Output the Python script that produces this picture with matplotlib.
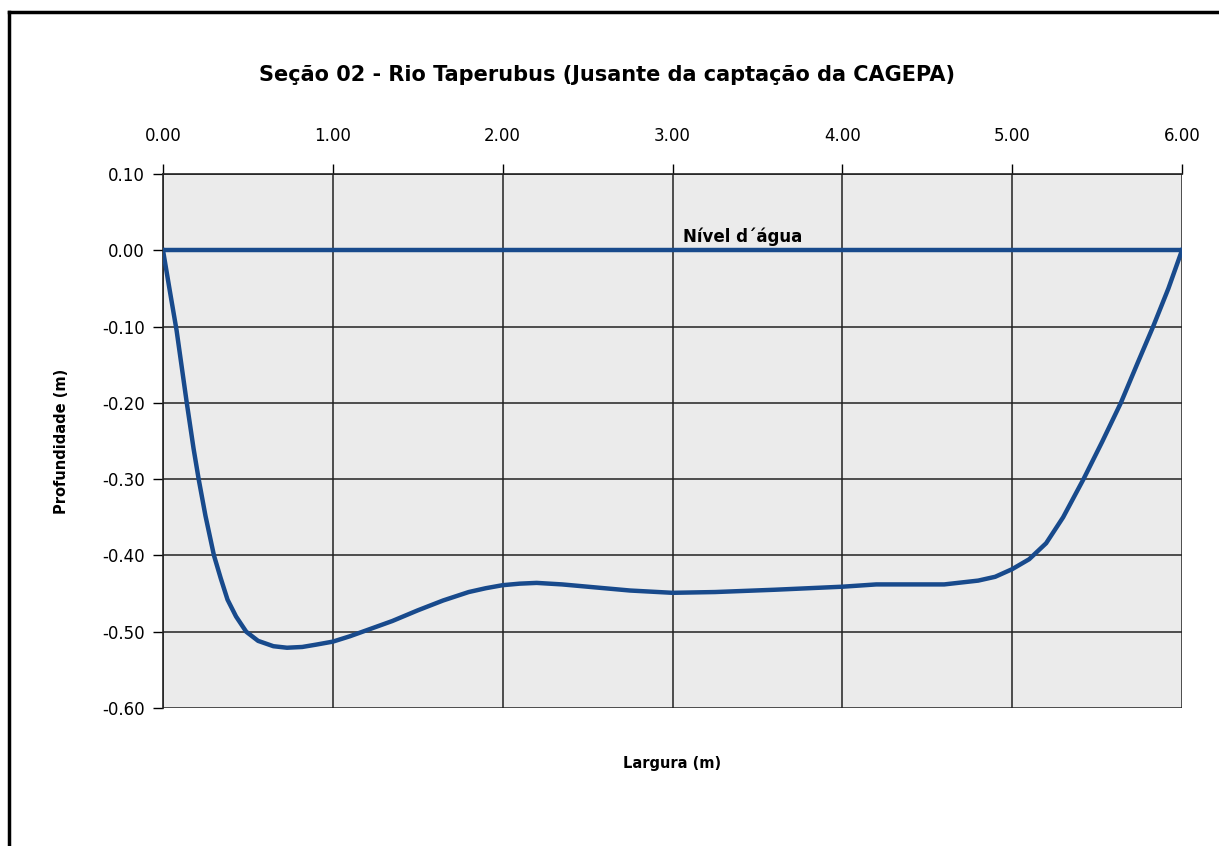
import matplotlib
matplotlib.use("Agg")
import matplotlib.pyplot as plt
from matplotlib.lines import Line2D

# cross-section
largura = [0.00, 0.04, 0.08, 0.14, 0.18, 0.21, 0.25, 0.30, 0.34, 0.38,
           0.43, 0.49, 0.56, 0.65, 0.73, 0.82, 0.90, 1.00, 1.10, 1.20,
           1.35, 1.50, 1.65, 1.80, 1.90, 2.00, 2.10, 2.20, 2.35, 2.50,
           2.75, 3.00, 3.25, 3.60, 4.00, 4.20, 4.60, 4.80, 4.90, 5.00,
           5.10, 5.20, 5.30, 5.42, 5.53, 5.64, 5.74, 5.83, 5.92, 6.00]
profundidade = [0.000, -0.053, -0.105, -0.200, -0.260, -0.300, -0.348, -0.400, -0.430, -0.458,
                -0.480, -0.500, -0.512, -0.519, -0.521, -0.520, -0.517, -0.513, -0.506, -0.498,
                -0.486, -0.472, -0.459, -0.448, -0.443, -0.439, -0.437, -0.436, -0.438, -0.441,
                -0.446, -0.449, -0.448, -0.445, -0.441, -0.438, -0.438, -0.433, -0.428, -0.418,
                -0.405, -0.384, -0.350, -0.300, -0.251, -0.200, -0.147, -0.100, -0.050, 0.000]
nivel_x = [0.0, 6.0]
nivel_y = [0.0, 0.0]

x_ticks = [0, 1, 2, 3, 4, 5, 6]
y_ticks = [0.10, 0.00, -0.10, -0.20, -0.30, -0.40, -0.50, -0.60]

blue = "#184a8c"

fig = plt.figure(figsize=(12.19, 8.46), dpi=100)
ax = fig.add_axes([163 / 1219, 1 - 708 / 846, (1182 - 163) / 1219, (708 - 174) / 846])
ax.set_facecolor("#ebebeb")

ax.plot(nivel_x, nivel_y, color=blue, lw=3.2, solid_capstyle="butt", zorder=3)
ax.plot(largura, profundidade, color=blue, lw=3.2, solid_joinstyle="round", zorder=3)

ax.set_xlim(0, 6)
ax.set_ylim(-0.60, 0.10)
ax.set_xticks(x_ticks)
ax.set_xticklabels([f"{v:.2f}" for v in x_ticks])
ax.set_yticks(y_ticks)
ax.set_yticklabels([f"{v:.2f}" for v in y_ticks])
ax.xaxis.tick_top()
ax.tick_params(axis="x", direction="out", length=7, width=1, labelsize=12, pad=14)
ax.tick_params(axis="y", direction="out", length=7, width=1, labelsize=12, pad=6)
ax.grid(True, color="#222222", lw=1.1)
ax.set_axisbelow(True)

for s in ["bottom", "right"]:
    ax.spines[s].set_visible(False)
for s in ["top", "left"]:
    ax.spines[s].set_color("#222222")
    ax.spines[s].set_linewidth(1.2)

ax.text(3.41, 0.005, "Nível d´água", ha="center", va="bottom",
        fontsize=12, fontweight="bold", zorder=4)

fig.text(607 / 1219, 1 - 75 / 846, "Seção 02 - Rio Taperubus (Jusante da captação da CAGEPA)",
         ha="center", va="center", fontsize=15, fontweight="bold")
fig.text(672 / 1219, 1 - 763 / 846, "Largura (m)", ha="center", va="center",
         fontsize=10.5, fontweight="bold")
fig.text(62 / 1219, 1 - 441 / 846, "Profundidade (m)", ha="center", va="center",
         rotation=90, fontsize=10.5, fontweight="bold")

# outer frame (only left and top edges fall inside the scan)
fig.add_artist(Line2D([9 / 1219, 9 / 1219], [0, 1 - 12 / 846], transform=fig.transFigure,
                      color="black", lw=2.5))
fig.add_artist(Line2D([9 / 1219, 1], [1 - 12 / 846, 1 - 12 / 846], transform=fig.transFigure,
                      color="black", lw=2.5))

fig.savefig("out.png", dpi=100)
